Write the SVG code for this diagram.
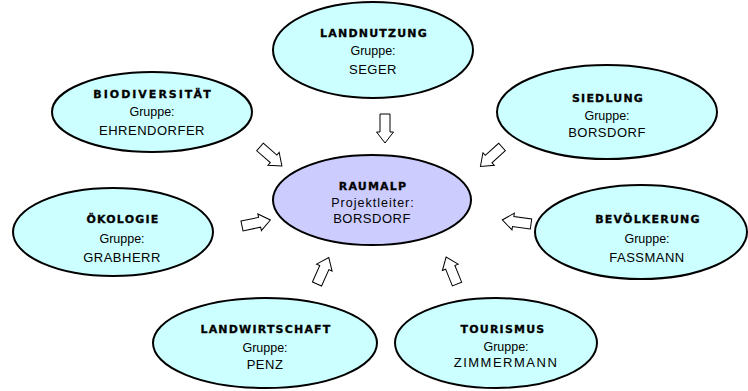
<svg xmlns="http://www.w3.org/2000/svg" xmlns:xlink="http://www.w3.org/1999/xlink" width="748" height="391" viewBox="0 0 748 391">
<defs>
<style>
.grp{fill:#ccffff;stroke:#000;stroke-width:2}
.ctr{fill:#ccccff;stroke:#000;stroke-width:2}
.t{font-family:"DejaVu Sans",Verdana,sans-serif;font-weight:bold;font-size:11px;letter-spacing:1.2px;text-anchor:middle;fill:#000;stroke:#000;stroke-width:0.3}
.g{font-family:"Liberation Sans",Arial,sans-serif;font-size:12.5px;text-anchor:middle;fill:#000}
.n{font-family:"Liberation Sans",Arial,sans-serif;font-size:13px;letter-spacing:0.5px;text-anchor:middle;fill:#000}
.arr{fill:#fff;stroke:#000;stroke-width:1}
</style>
<path id="ba" d="M0,-5 L18,-5 L18,-8.5 L29,0 L18,8.5 L18,5 L0,5 Z"/>
</defs>
<rect width="748" height="391" fill="#fff"/>
<g id="connectors" class="arr">
<use xlink:href="#ba" transform="translate(385,114) rotate(90)"/>
<use xlink:href="#ba" transform="translate(260,147) rotate(41)"/>
<use xlink:href="#ba" transform="translate(502,147) rotate(138)"/>
<use xlink:href="#ba" transform="translate(242,226) rotate(-12)"/>
<use xlink:href="#ba" transform="translate(531,224) rotate(188)"/>
<use xlink:href="#ba" transform="translate(317,284) rotate(-66)"/>
<use xlink:href="#ba" transform="translate(457,284) rotate(-112)"/>
</g>
<g id="landnutzung">
<ellipse class="grp" cx="373" cy="50" rx="100" ry="48"/>
<text class="t" x="374" y="37">LANDNUTZUNG</text>
<text class="g" x="373" y="55">Gruppe:</text>
<text class="n" x="373" y="74">SEGER</text>
</g>
<g id="biodiversitaet">
<ellipse class="grp" cx="152" cy="112" rx="100" ry="40"/>
<text class="t" x="153" y="98" style="letter-spacing:2px">BIODIVERSITÄT</text>
<text class="g" x="152" y="116">Gruppe:</text>
<text class="n" x="152" y="135">EHRENDORFER</text>
</g>
<g id="siedlung">
<ellipse class="grp" cx="607" cy="112" rx="110" ry="47"/>
<text class="t" x="608" y="102">SIEDLUNG</text>
<text class="g" x="607" y="120">Gruppe:</text>
<text class="n" x="607" y="137">BORSDORF</text>
</g>
<g id="raumalp">
<ellipse class="ctr" cx="372" cy="200" rx="99" ry="45"/>
<text class="t" x="373" y="190">RAUMALP</text>
<text class="g" x="373" y="207" style="letter-spacing:1px">Projektleiter:</text>
<text class="n" x="372" y="223">BORSDORF</text>
</g>
<g id="oekologie">
<ellipse class="grp" cx="113" cy="232" rx="100" ry="44"/>
<text class="t" x="123" y="223">ÖKOLOGIE</text>
<text class="g" x="122" y="243">Gruppe:</text>
<text class="n" x="122" y="262">GRABHERR</text>
</g>
<g id="bevoelkerung">
<ellipse class="grp" cx="641" cy="232" rx="106" ry="47"/>
<text class="t" x="648" y="223">BEVÖLKERUNG</text>
<text class="g" x="647" y="243">Gruppe:</text>
<text class="n" x="647" y="262">FASSMANN</text>
</g>
<g id="landwirtschaft">
<ellipse class="grp" cx="265" cy="343" rx="112" ry="45"/>
<text class="t" x="266" y="333">LANDWIRTSCHAFT</text>
<text class="g" x="265" y="352">Gruppe:</text>
<text class="n" x="265" y="369">PENZ</text>
</g>
<g id="tourismus">
<ellipse class="grp" cx="496" cy="343" rx="101" ry="45"/>
<text class="t" x="503" y="333">TOURISMUS</text>
<text class="g" x="506" y="351">Gruppe:</text>
<text class="n" x="506" y="367" style="letter-spacing:1.5px">ZIMMERMANN</text>
</g>
</svg>
